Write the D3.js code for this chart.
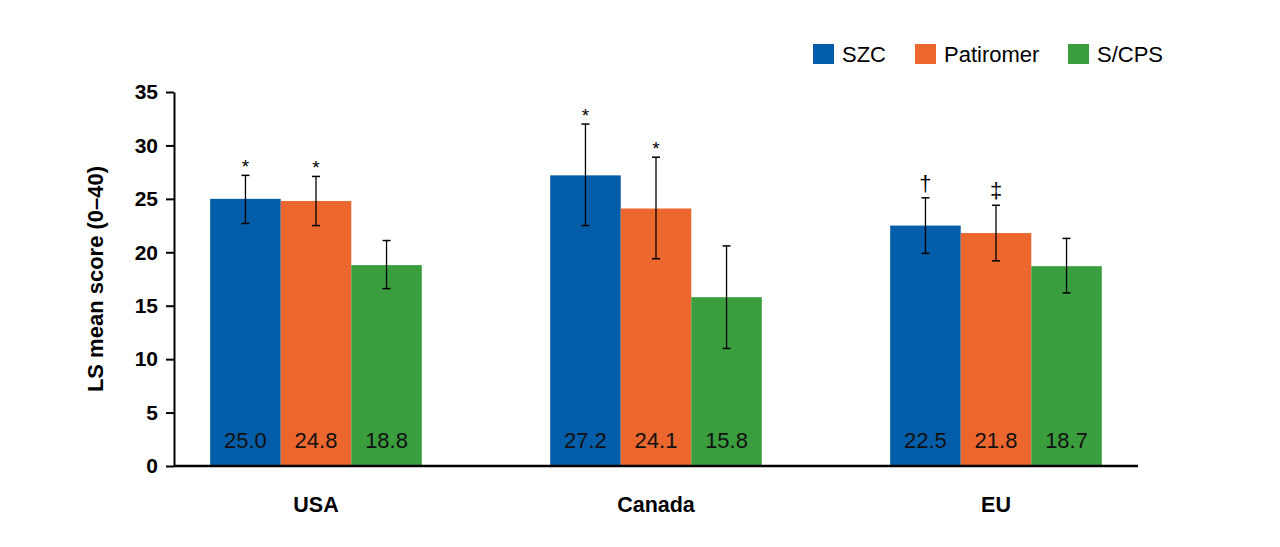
<!DOCTYPE html>
<html>
<head>
<meta charset="utf-8">
<script src="https://cdn.jsdelivr.net/npm/d3@7"></script>
<style>
  body { margin: 0; background: #fff; }
  text { font-family: "Liberation Sans", Arial, sans-serif; }
</style>
</head>
<body>
<div id="chart-area"></div>
<script>
// data
const regions = ["USA", "Canada", "EU"];
const series = ["SZC", "Patiromer", "S/CPS"];
const colors = ["#045da8", "#ec672d", "#3a9e3f"];
const means = [
  [25.0, 24.8, 18.8],
  [27.2, 24.1, 15.8],
  [22.5, 21.8, 18.7]
];
// error bar limits (lower, upper)
const errLow = [
  [22.7, 22.5, 16.6],
  [22.5, 19.4, 11.0],
  [19.9, 19.2, 16.2]
];
const errHigh = [
  [27.2, 27.1, 21.1],
  [32.0, 28.9, 20.6],
  [25.1, 24.4, 21.3]
];
const marks = [
  ["*", "*", ""],
  ["*", "*", ""],
  ["†", "‡", ""]
];
const yTicks = [0, 5, 10, 15, 20, 25, 30, 35];

const width = 1280, height = 547;

const svg = d3.select("#chart-area")
  .append("svg")
  .attr("width", width)
  .attr("height", height);

const y = d3.scaleLinear().domain([0, 35]).range([466, 92]);

const x0 = d3.scaleBand().domain(regions).range([146, 1166]);
const x1 = d3.scaleBand().domain(series).range([0, x0.bandwidth()])
  .paddingInner(0).paddingOuter(0.91);

// bars
const groups = svg.selectAll("g.region")
  .data(regions)
  .enter()
  .append("g")
  .attr("class", "region")
  .attr("transform", d => "translate(" + x0(d) + ",0)");

const cells = groups.selectAll("g.bar")
  .data((d, i) => series.map((s, j) => ({
    s: s, j: j, v: means[i][j], lo: errLow[i][j], hi: errHigh[i][j], m: marks[i][j]
  })))
  .enter()
  .append("g")
  .attr("class", "bar");

cells.append("rect")
  .attr("x", d => x1(d.s))
  .attr("y", d => y(d.v))
  .attr("width", x1.bandwidth())
  .attr("height", d => y(0) - y(d.v))
  .attr("fill", d => colors[d.j]);

// value labels inside bars
cells.append("text")
  .attr("x", d => x1(d.s) + x1.bandwidth() / 2)
  .attr("y", 448)
  .attr("text-anchor", "middle")
  .attr("font-size", 22)
  .attr("fill", "#111")
  .text(d => d.v.toFixed(1));

// error bars
const cx = d => x1(d.s) + x1.bandwidth() / 2;
cells.append("line")
  .attr("x1", cx).attr("x2", cx)
  .attr("y1", d => y(d.lo)).attr("y2", d => y(d.hi))
  .attr("stroke", "#000").attr("stroke-width", 1.3);
cells.append("line")
  .attr("x1", d => cx(d) - 4).attr("x2", d => cx(d) + 4)
  .attr("y1", d => y(d.hi)).attr("y2", d => y(d.hi))
  .attr("stroke", "#000").attr("stroke-width", 1.5);
cells.append("line")
  .attr("x1", d => cx(d) - 4).attr("x2", d => cx(d) + 4)
  .attr("y1", d => y(d.lo)).attr("y2", d => y(d.lo))
  .attr("stroke", "#000").attr("stroke-width", 1.5);

// significance marks
cells.filter(d => d.m !== "")
  .append("text")
  .attr("x", cx)
  .attr("y", d => d.m === "*" ? y(d.hi) - 2 : y(d.hi) - 7)
  .attr("text-anchor", "middle")
  .attr("font-size", d => d.m === "*" ? 19 : 22)
  .attr("fill", "#000")
  .text(d => d.m);

// y axis
const yAxis = svg.append("g")
  .attr("transform", "translate(174,0)")
  .call(d3.axisLeft(y).tickValues(yTicks).tickSize(8).tickSizeOuter(0).tickPadding(8));
yAxis.select(".domain").attr("stroke-width", 2);
yAxis.selectAll(".tick line").attr("stroke-width", 2);
yAxis.selectAll(".tick text")
  .attr("font-size", 21)
  .attr("font-weight", "bold")
  .attr("font-family", "Liberation Sans, Arial, sans-serif")
  .attr("fill", "#000");

// x axis line
svg.append("line")
  .attr("x1", 174).attr("x2", 1138)
  .attr("y1", y(0)).attr("y2", y(0))
  .attr("stroke", "#000").attr("stroke-width", 2.5);

// region labels
svg.selectAll("text.region")
  .data(regions)
  .enter()
  .append("text")
  .attr("class", "region")
  .attr("x", d => x0(d) + x0.bandwidth() / 2)
  .attr("y", 512)
  .attr("text-anchor", "middle")
  .attr("font-size", 21.5)
  .attr("font-weight", "bold")
  .text(d => d);

// y axis title
svg.append("text")
  .attr("transform", "translate(103," + ((y(0) + y(35)) / 2) + ") rotate(-90)")
  .attr("text-anchor", "middle")
  .attr("font-size", 22)
  .attr("font-weight", "bold")
  .text("LS mean score (0–40)");

// legend
const legendX = [813, 915, 1068];
const legend = svg.selectAll("g.legend")
  .data(series)
  .enter()
  .append("g")
  .attr("class", "legend")
  .attr("transform", (d, i) => "translate(" + legendX[i] + ",44)");
legend.append("rect")
  .attr("width", 21).attr("height", 20)
  .attr("fill", (d, i) => colors[i]);
legend.append("text")
  .attr("x", 29).attr("y", 18)
  .attr("font-size", 22)
  .attr("fill", "#000")
  .text(d => d);
</script>
</body>
</html>
